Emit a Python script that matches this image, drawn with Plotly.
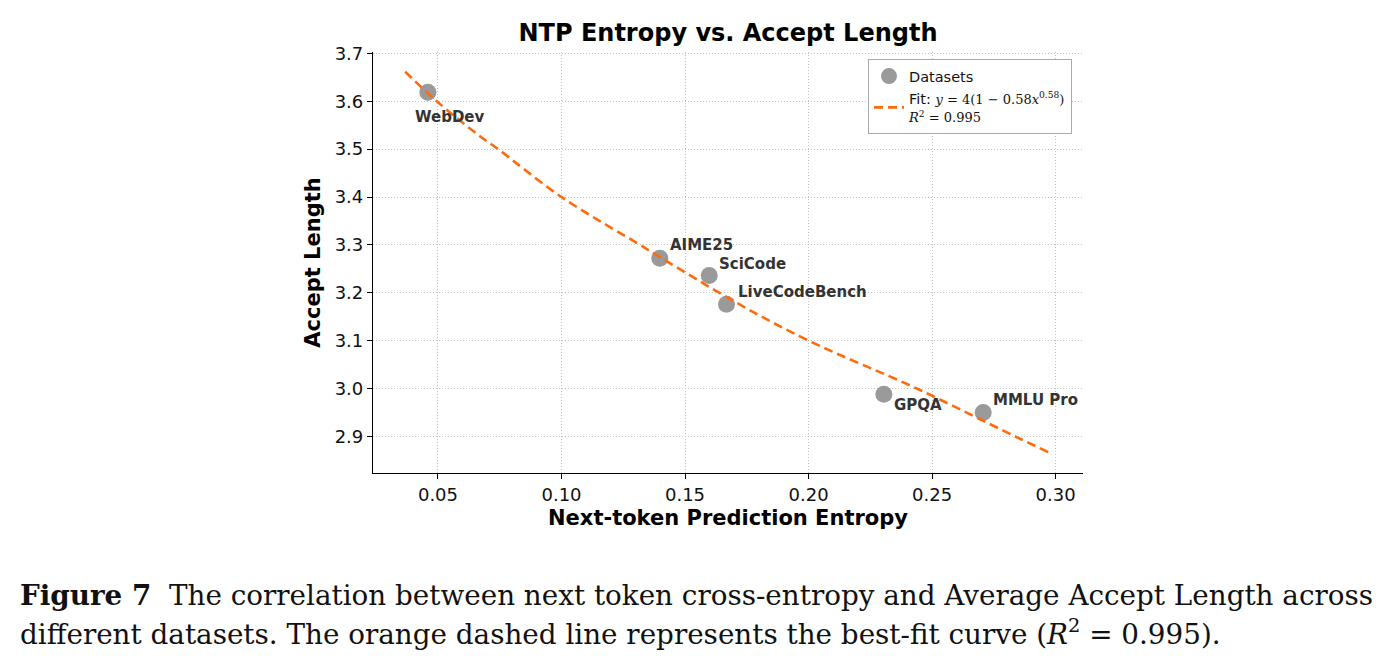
import plotly.graph_objects as go

# Data points
datasets = ["WebDev", "AIME25", "SciCode", "LiveCodeBench", "GPQA", "MMLU Pro"]
entropy = [0.0459, 0.1398, 0.1598, 0.1668, 0.2305, 0.2707]
accept_len = [3.619, 3.272, 3.236, 3.176, 2.988, 2.950]

# Fit curve
fit_x = [0.0367, 0.0495, 0.067, 0.0744, 0.10, 0.1318, 0.14, 0.1723, 0.20, 0.2438, 0.2836, 0.2975]
fit_y = [3.662, 3.600, 3.527, 3.500, 3.400, 3.300, 3.274, 3.175, 3.100, 3.000, 2.900, 2.866]

# label offsets (pixels)
label_dx = [-15, 8, 8, 9, 8, 8]
label_dy = [-25, 13, 12, 12, -11, 12]

x_ticks = [0.05, 0.10, 0.15, 0.20, 0.25, 0.30]
y_ticks = [2.9, 3.0, 3.1, 3.2, 3.3, 3.4, 3.5, 3.6, 3.7]

FONT = "DejaVu Sans"

fig = go.Figure()
fig.add_trace(go.Scatter(
    x=entropy, y=accept_len, mode="markers", name="Datasets",
    marker=dict(size=17, color="#9a9a9a", line=dict(width=0)),
))
fig.add_trace(go.Scatter(
    x=fit_x, y=fit_y, mode="lines", line_shape="spline",
    name=("Fit: <span style='font-family:DejaVu Serif;font-size:13px'><i>y</i> = 4(1 − 0.58<i>x</i><sup>0.58</sup>)</span>"
          "<br><span style='font-family:DejaVu Serif;font-size:13px'><i>R</i><sup>2</sup> = 0.995</span>"),
    line=dict(color="#ff6a0d", width=2.6, dash="9px,5px"),
))

for name, xv, yv, dx, dy in zip(datasets, entropy, accept_len, label_dx, label_dy):
    fig.add_annotation(
        x=xv, y=yv, xref="x", yref="y", text=f"<b>{name}</b>", showarrow=False,
        xanchor="left", yanchor="middle", xshift=dx, yshift=dy,
        font=dict(family=FONT, size=15, color="#333333"),
    )

# Caption
fig.add_annotation(
    x=-0.5, y=-0.29, xref="paper", yref="paper", xanchor="left", yanchor="middle",
    showarrow=False, align="left",
    text="<b>Figure 7</b>  The correlation between next token cross-entropy and Average Accept Length across",
    font=dict(family="DejaVu Serif", size=27.8, color="#111111"),
)
fig.add_annotation(
    x=-0.5, y=-0.38, xref="paper", yref="paper", xanchor="left", yanchor="middle",
    showarrow=False, align="left",
    text="different datasets. The orange dashed line represents the best-fit curve (<i>R</i><sup>2</sup> = 0.995).",
    font=dict(family="DejaVu Serif", size=27.8, color="#111111"),
)

GRID = dict(showgrid=True, gridcolor="#c4c4c4", gridwidth=1, griddash="1px,2px", zeroline=False)

fig.update_layout(
    width=1392, height=670,
    margin=dict(l=373, r=309, t=52, b=197),
    paper_bgcolor="white", plot_bgcolor="white",
    font=dict(family=FONT, color="#111111"),
    title=dict(text="<b>NTP Entropy vs. Accept Length</b>", x=(373 + 1083) / 2 / 1392, xanchor="center",
               y=1 - 33 / 670, yanchor="middle", font=dict(family=FONT, size=24, color="#000000")),
    showlegend=True,
    legend=dict(x=0.9845, y=0.983, xanchor="right", yanchor="top",
                bgcolor="white", bordercolor="#aaaaaa", borderwidth=1,
                font=dict(family=FONT, size=14.5, color="#111111"),
                itemwidth=30, tracegroupgap=2),
)
fig.update_xaxes(
    range=[0.0237, 0.3111], tickvals=x_ticks, ticktext=[f"{v:.2f}" for v in x_ticks],
    showline=True, linecolor="black", linewidth=1.2, mirror=False,
    ticks="outside", ticklen=5, tickwidth=1.2, tickcolor="black",
    tickfont=dict(family=FONT, size=18, color="#111111"),
    title=dict(text="<b>Next-token Prediction Entropy</b>", font=dict(family=FONT, size=21, color="#000000"),
               standoff=6),
    **GRID,
)
fig.update_yaxes(
    range=[2.8235, 3.703], tickvals=y_ticks, ticktext=[f"{v:.1f}" for v in y_ticks],
    showline=True, linecolor="black", linewidth=1.2, mirror=False,
    ticks="outside", ticklen=5, tickwidth=1.2, tickcolor="black",
    tickfont=dict(family=FONT, size=18, color="#111111"),
    title=dict(text="<b>Accept Length</b>", font=dict(family=FONT, size=21, color="#000000"),
               standoff=8),
    **GRID,
)

fig.write_html("out.html")
